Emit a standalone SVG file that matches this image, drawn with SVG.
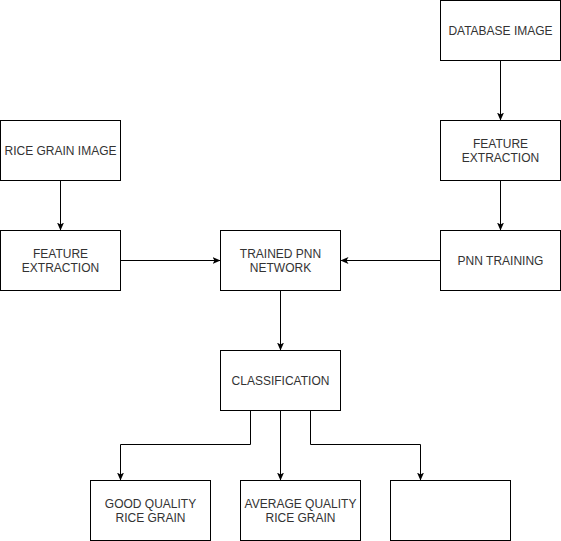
<svg xmlns="http://www.w3.org/2000/svg" width="561" height="541" viewBox="0 0 561 541">
  <defs>
    <marker id="arrow" viewBox="0 0 8 8" refX="8" refY="4" markerWidth="8" markerHeight="8" markerUnits="userSpaceOnUse" orient="auto">
      <path d="M0,0.5 L8,4 L0,7.5 L2,4 Z" fill="#000"/>
    </marker>
    <style>
      .box { fill: #fff; stroke: #000; stroke-width: 1; }
      .lbl { font-family: Helvetica, "Liberation Sans", Arial, sans-serif; font-size: 12px; fill: #333; text-anchor: middle; }
      .edge { fill: none; stroke: #000; stroke-width: 1; marker-end: url(#arrow); }
    </style>
  </defs>
  <rect width="561" height="541" fill="#fff"/>

  <g id="connectors">
    <path class="edge" d="M500.5,60.5 V120.5"/>
    <path class="edge" d="M500.5,180.5 V230.5"/>
    <path class="edge" d="M60.5,180.5 V230.5"/>
    <path class="edge" d="M120.5,260.5 H220.5"/>
    <path class="edge" d="M440.5,260.5 H340.5"/>
    <path class="edge" d="M280.5,290.5 V350.5"/>
    <path class="edge" d="M250.5,410.5 V444.5 H120.5 V480.5"/>
    <path class="edge" d="M280.5,410.5 V480.5"/>
    <path class="edge" d="M310.5,410.5 V444.5 H420.5 V480.5"/>
  </g>

  <g id="database-image">
    <rect class="box" x="440.5" y="0.5" width="120" height="60"/>
    <text class="lbl" x="500.5" y="35">DATABASE IMAGE</text>
  </g>
  <g id="feature-extraction-db">
    <rect class="box" x="440.5" y="120.5" width="120" height="60"/>
    <text class="lbl" x="500.5" y="148">FEATURE</text>
    <text class="lbl" x="500.5" y="162">EXTRACTION</text>
  </g>
  <g id="pnn-training">
    <rect class="box" x="440.5" y="230.5" width="120" height="60"/>
    <text class="lbl" x="500.5" y="265">PNN TRAINING</text>
  </g>
  <g id="rice-grain-image">
    <rect class="box" x="0.5" y="120.5" width="120" height="60"/>
    <text class="lbl" x="60.5" y="155">RICE GRAIN IMAGE</text>
  </g>
  <g id="feature-extraction">
    <rect class="box" x="0.5" y="230.5" width="120" height="60"/>
    <text class="lbl" x="60.5" y="258">FEATURE</text>
    <text class="lbl" x="60.5" y="272">EXTRACTION</text>
  </g>
  <g id="trained-pnn-network">
    <rect class="box" x="220.5" y="230.5" width="120" height="60"/>
    <text class="lbl" x="280.5" y="258">TRAINED PNN</text>
    <text class="lbl" x="280.5" y="272">NETWORK</text>
  </g>
  <g id="classification">
    <rect class="box" x="220.5" y="350.5" width="120" height="60"/>
    <text class="lbl" x="280.5" y="385">CLASSIFICATION</text>
  </g>
  <g id="good-quality">
    <rect class="box" x="90.5" y="480.5" width="120" height="60"/>
    <text class="lbl" x="150.5" y="508">GOOD QUALITY</text>
    <text class="lbl" x="150.5" y="522">RICE GRAIN</text>
  </g>
  <g id="average-quality">
    <rect class="box" x="240.5" y="480.5" width="120" height="60"/>
    <text class="lbl" x="300.5" y="508">AVERAGE QUALITY</text>
    <text class="lbl" x="300.5" y="522">RICE GRAIN</text>
  </g>
  <g id="third-grade">
    <rect class="box" x="390.5" y="480.5" width="120" height="60"/>
  </g>
</svg>
